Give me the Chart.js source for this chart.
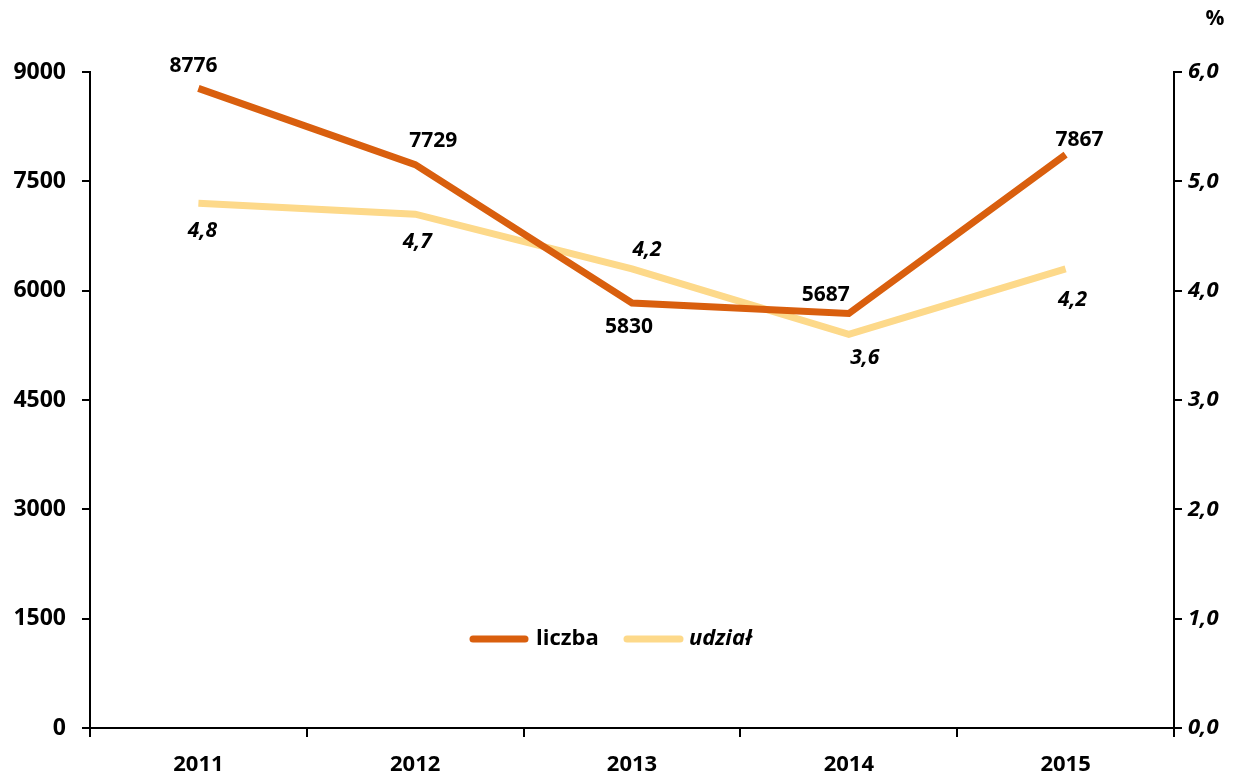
<!DOCTYPE html>
<html lang="pl">
<head>
<meta charset="UTF-8">
<title>liczba i udział</title>
<script src="https://cdn.jsdelivr.net/npm/chart.js@4/dist/chart.umd.min.js"></script>
<style>
    body {
        margin: 0;
        padding: 0;
        background: #fff;
    }
    #wrap {
        width: 1237px;
        height: 773px;
    }
</style>
</head>
<body>
<div id="wrap"><canvas id="chart" width="1237" height="773"></canvas></div>
<script>
// dane
const years = ['2011', '2012', '2013', '2014', '2015'];
const liczba = [8776, 7729, 5830, 5687, 7867];
const udzial = [4.8, 4.7, 4.2, 3.6, 4.2];
const leftTicks = [0, 1500, 3000, 4500, 6000, 7500, 9000];
const rightTicks = [0, 1, 2, 3, 4, 5, 6];

// przesunięcia etykiet względem punktów
const liczbaOffsets = [[-5, -22], [18, -24], [-3, 24], [-23, -18], [14, -15]];
const udzialOffsets = [[4, 28], [2, 28], [15, -19], [16, 24], [7, 31]];

const FONT = "'Open Sans', sans-serif";
const ORANGE = '#D95F0E';
const LIGHT = '#FDD98A';

function pl(v) {
    return v.toFixed(1).replace('.', ',');
}

const labelsPlugin = {
    id: 'labels',
    afterDatasetsDraw(chart) {
        const ctx = chart.ctx;
        ctx.save();
        ctx.fillStyle = '#000';
        ctx.textAlign = 'center';
        ctx.textBaseline = 'middle';
        // liczba
        ctx.font = 'bold 21px ' + FONT;
        chart.getDatasetMeta(0).data.forEach((p, i) => {
            ctx.fillText(String(liczba[i]), p.x + liczbaOffsets[i][0], p.y + liczbaOffsets[i][1]);
        });
        // udział
        ctx.font = 'italic bold 21px ' + FONT;
        chart.getDatasetMeta(1).data.forEach((p, i) => {
            ctx.fillText(pl(udzial[i]), p.x + udzialOffsets[i][0], p.y + udzialOffsets[i][1]);
        });

        // %
        ctx.font = 'bold 21px ' + FONT;
        ctx.fillText('%', 1215, 19);

        // legenda
        const ly = 639;
        ctx.lineCap = 'round';
        ctx.lineWidth = 7;
        ctx.strokeStyle = ORANGE;
        ctx.beginPath();
        ctx.moveTo(473, ly);
        ctx.lineTo(525, ly);
        ctx.stroke();
        ctx.strokeStyle = LIGHT;
        ctx.beginPath();
        ctx.moveTo(627, ly);
        ctx.lineTo(680, ly);
        ctx.stroke();
        ctx.textAlign = 'left';
        ctx.font = 'bold 22px ' + FONT;
        ctx.fillText('liczba', 536, ly);
        ctx.font = 'italic bold 22px ' + FONT;
        ctx.fillText('udział', 689, ly);
        ctx.restore();
    }
};

new Chart(document.getElementById('chart'), {
    type: 'line',
    data: {
        labels: years,
        datasets: [
            {
                label: 'liczba',
                data: liczba,
                yAxisID: 'y',
                borderColor: ORANGE,
                borderWidth: 7,
                pointRadius: 0,
                tension: 0,
                order: 1
            },
            {
                label: 'udział',
                data: udzial,
                yAxisID: 'y2',
                borderColor: LIGHT,
                borderWidth: 7,
                pointRadius: 0,
                tension: 0,
                order: 2
            }
        ]
    },
    options: {
        responsive: false,
        animation: false,
        layout: { padding: { top: 72, left: 0, right: 0, bottom: 0 } },
        plugins: {
            legend: { display: false },
            tooltip: { enabled: false }
        },
        scales: {
            x: {
                offset: true,
                grid: {
                    offset: true,
                    drawOnChartArea: false,
                    color: '#000',
                    lineWidth: 2,
                    tickLength: 9
                },
                border: { color: '#000', width: 2 },
                ticks: {
                    color: '#000',
                    font: { family: FONT, size: 22, weight: 'bold' },
                    padding: 15,
                    maxRotation: 0
                },
                afterFit(scale) { scale.height = 45; }
            },
            y: {
                position: 'left',
                min: 0,
                max: 9000,
                afterBuildTicks(scale) { scale.ticks = leftTicks.map(v => ({ value: v })); },
                grid: {
                    drawOnChartArea: false,
                    color: '#000',
                    lineWidth: 2,
                    tickLength: 8
                },
                border: { color: '#000', width: 2 },
                ticks: {
                    color: '#000',
                    font: { family: FONT, size: 23, weight: 'bold' },
                    padding: 16,
                    callback: v => String(v)
                },
                afterFit(scale) { scale.width = 90; }
            },
            y2: {
                position: 'right',
                min: 0,
                max: 6,
                afterBuildTicks(scale) { scale.ticks = rightTicks.map(v => ({ value: v })); },
                grid: {
                    drawOnChartArea: false,
                    color: '#000',
                    lineWidth: 2,
                    tickLength: 8
                },
                border: { color: '#000', width: 2 },
                ticks: {
                    color: '#000',
                    font: { family: FONT, size: 22, weight: 'bold', style: 'italic' },
                    padding: 6,
                    callback: v => pl(v)
                },
                afterFit(scale) { scale.width = 63; }
            }
        }
    },
    plugins: [labelsPlugin]
});
</script>
</body>
</html>
